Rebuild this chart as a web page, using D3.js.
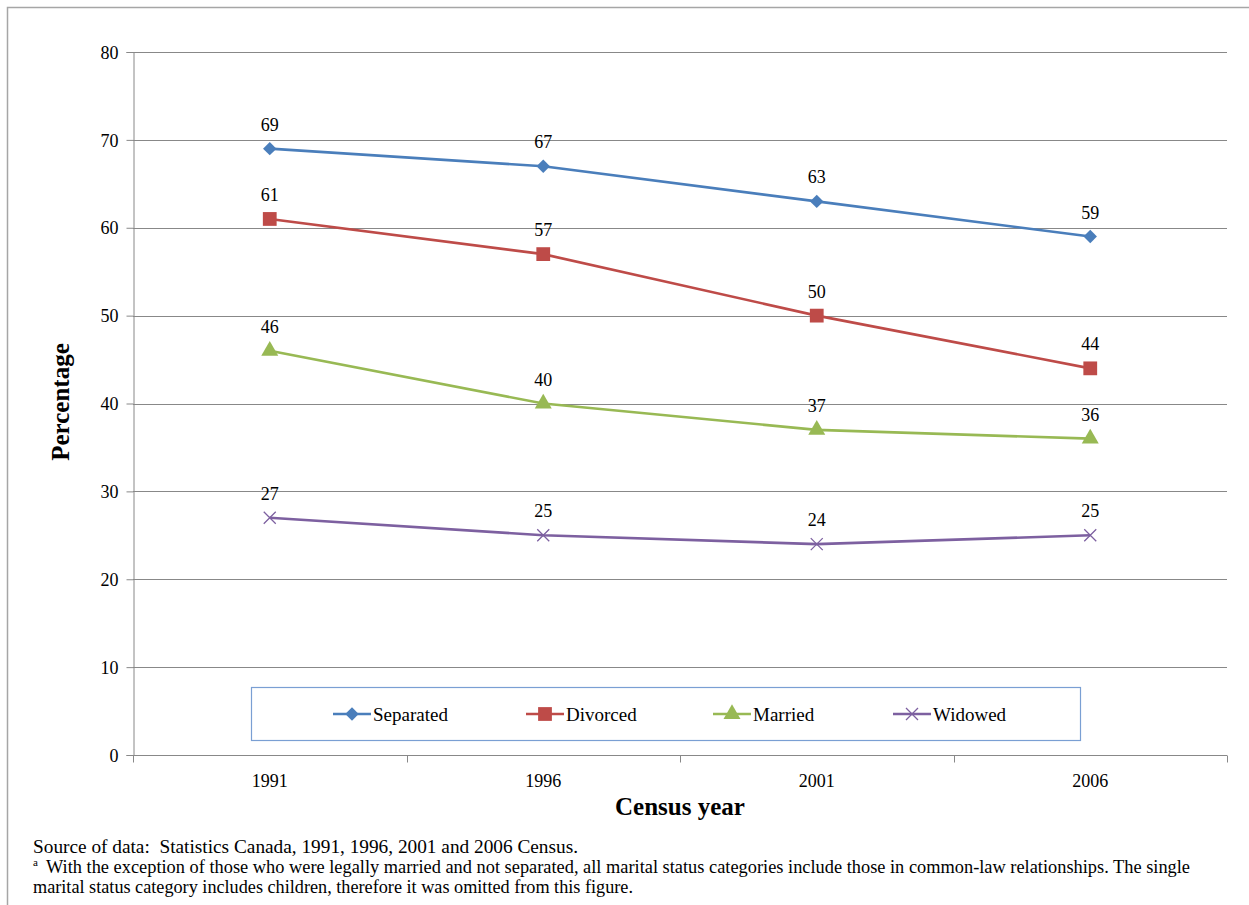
<!DOCTYPE html>
<html>
<head>
<meta charset="utf-8">
<script src="https://cdn.jsdelivr.net/npm/d3@7"></script>
<style>
  body { margin: 0; background: #fff; }
  svg text { font-family: "Liberation Serif", "Times New Roman", "DejaVu Serif", serif; fill: #000; }
</style>
</head>
<body>
<svg id="chart" width="1249" height="905"></svg>
<script>
var years = ["1991", "1996", "2001", "2006"];
var seriesNames = ["Separated", "Divorced", "Married", "Widowed"];
var separated = [69, 67, 63, 59];
var divorced = [61, 57, 50, 44];
var married = [46, 40, 37, 36];
var widowed = [27, 25, 24, 25];
var yTicks = [0, 10, 20, 30, 40, 50, 60, 70, 80];

var seriesVals = [separated, divorced, married, widowed];
var colors = ["#4a7ebb", "#be4b48", "#98b954", "#7d60a0"];
var serif = "Liberation Serif, Times New Roman, serif";

var svg = d3.select("#chart");

var plotLeft = 133, plotRight = 1227, plotTop = 52, plotBottom = 755;

var x = d3.scaleBand().domain(years).range([plotLeft, plotRight]).padding(0);
var y = d3.scaleLinear().domain([0, 80]).range([plotBottom, plotTop]);

// outer chart frame
svg.append("rect")
	.attr("x", 7.5).attr("y", 7.5)
	.attr("width", 1400).attr("height", 1000)
	.attr("fill", "none")
	.attr("stroke", "#a6a6a6")
	.attr("stroke-width", 1.5);

// gridlines
svg.append("g")
	.selectAll("line")
	.data(yTicks.filter(function(d) { return d > 0; }))
	.enter()
	.append("line")
	.attr("x1", plotLeft).attr("x2", plotRight)
	.attr("y1", function(d) { return Math.round(y(d)) + 0.5; })
	.attr("y2", function(d) { return Math.round(y(d)) + 0.5; })
	.attr("stroke", "#888")
	.attr("stroke-width", 1);

// y axis
var yAxis = svg.append("g")
	.attr("transform", "translate(" + (plotLeft + 0.5) + ",0)")
	.call(d3.axisLeft(y).tickValues(yTicks).tickSize(7).tickPadding(8));
yAxis.attr("font-family", serif).attr("font-size", 18);
yAxis.select(".domain").attr("stroke", "#888");
yAxis.selectAll(".tick line").attr("stroke", "#888");
yAxis.selectAll("text").attr("dy", "0.34em");

// x axis: ticks at category boundaries
var xAxis = svg.append("g")
	.attr("transform", "translate(0," + (plotBottom + 0.5) + ")");
xAxis.append("line")
	.attr("x1", plotLeft).attr("x2", plotRight)
	.attr("stroke", "#888");
var bounds = years.map(function(d) { return x(d); }).concat([plotRight]);
xAxis.selectAll(".bt")
	.data(bounds)
	.enter()
	.append("line")
	.attr("x1", function(d) { return Math.round(d) + 0.5; })
	.attr("x2", function(d) { return Math.round(d) + 0.5; })
	.attr("y1", 0).attr("y2", 7)
	.attr("stroke", "#888");
xAxis.selectAll(".yl")
	.data(years)
	.enter()
	.append("text")
	.attr("x", function(d) { return x(d) + x.bandwidth() / 2; })
	.attr("y", 31)
	.attr("text-anchor", "middle")
	.attr("font-family", serif)
	.attr("font-size", 18)
	.text(function(d) { return d; });

// axis titles
svg.append("text")
	.attr("x", (plotLeft + plotRight) / 2)
	.attr("y", 815)
	.attr("text-anchor", "middle")
	.attr("font-family", serif)
	.attr("font-size", 25)
	.attr("font-weight", "bold")
	.text("Census year");

svg.append("text")
	.attr("transform", "translate(69,402) rotate(-90)")
	.attr("text-anchor", "middle")
	.attr("font-family", serif)
	.attr("font-size", 25)
	.attr("font-weight", "bold")
	.text("Percentage");

// marker shapes
function markerPath(i) {
	if (i === 0) return d3.symbol().type(d3.symbolSquare).size(90)();
	if (i === 1) return d3.symbol().type(d3.symbolSquare).size(190)();
	if (i === 2) return d3.symbol().type(d3.symbolTriangle).size(125)();
	return "M-6,-6L6,6M-6,6L6,-6";
}
function markerAttrs(sel, i) {
	sel.attr("d", markerPath(i))
		.attr("fill", i === 3 ? "none" : colors[i])
		.attr("stroke", colors[i])
		.attr("stroke-width", i === 3 ? 1.3 : 0);
}

var line = d3.line()
	.x(function(d, i) { return x(years[i]) + x.bandwidth() / 2; })
	.y(function(d) { return y(d); });

seriesVals.forEach(function(vals, s) {
	var g = svg.append("g").attr("class", "series");
	g.append("path")
		.datum(vals)
		.attr("d", line)
		.attr("fill", "none")
		.attr("stroke", colors[s])
		.attr("stroke-width", 2.6);
	g.selectAll(".mk")
		.data(vals)
		.enter()
		.append("path")
		.attr("transform", function(d, i) {
			var t = "translate(" + (x(years[i]) + x.bandwidth() / 2) + "," + y(d) + ")";
			return s === 0 ? t + " rotate(45)" : t;
		})
		.each(function() { markerAttrs(d3.select(this), s); });
	g.selectAll(".lbl")
		.data(vals)
		.enter()
		.append("text")
		.attr("x", function(d, i) { return x(years[i]) + x.bandwidth() / 2; })
		.attr("y", function(d) { return y(d) - 18; })
		.attr("text-anchor", "middle")
		.attr("font-family", serif)
		.attr("font-size", 18)
		.text(function(d) { return d; });
});

// legend
var legend = svg.append("g");
legend.append("rect")
	.attr("x", 251.5).attr("y", 687.5)
	.attr("width", 829).attr("height", 53)
	.attr("fill", "#fff")
	.attr("stroke", "#7a9fd3")
	.attr("stroke-width", 1.2);
var legendX = [333, 526, 713, 893];
seriesNames.forEach(function(name, s) {
	var lx = legendX[s], ly = 714;
	legend.append("line")
		.attr("x1", lx).attr("x2", lx + 38)
		.attr("y1", ly).attr("y2", ly)
		.attr("stroke", colors[s])
		.attr("stroke-width", 2.6);
	legend.append("path")
		.attr("transform", "translate(" + (lx + 19) + "," + ly + ")" + (s === 0 ? " rotate(45)" : ""))
		.each(function() { markerAttrs(d3.select(this), s); });
	legend.append("text")
		.attr("x", lx + 40)
		.attr("y", 721)
		.attr("font-family", serif)
		.attr("font-size", 19)
		.text(name);
});

// notes
var notes = svg.append("g").attr("font-family", serif).attr("font-size", 18);
notes.append("text")
	.attr("x", 33).attr("y", 853)
	.attr("textLength", 545).attr("lengthAdjust", "spacingAndGlyphs")
	.attr("xml:space", "preserve")
	.style("white-space", "pre")
	.text("Source of data:  Statistics Canada, 1991, 1996, 2001 and 2006 Census.");
notes.append("text")
	.attr("x", 33).attr("y", 866)
	.attr("font-size", 11)
	.text("a");
notes.append("text")
	.attr("x", 46).attr("y", 873)
	.attr("textLength", 1144).attr("lengthAdjust", "spacingAndGlyphs")
	.text("With the exception of those who were legally married and not separated, all marital status categories include those in common-law relationships. The single");
notes.append("text")
	.attr("x", 33).attr("y", 893)
	.attr("textLength", 600).attr("lengthAdjust", "spacingAndGlyphs")
	.text("marital status category includes children, therefore it was omitted from this figure.");
</script>
</body>
</html>
